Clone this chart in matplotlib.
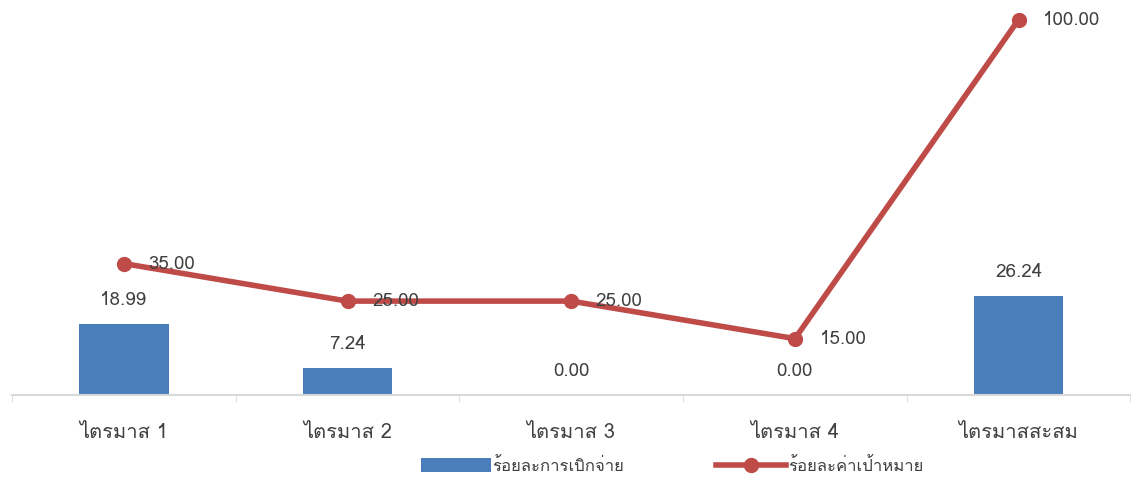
import matplotlib
matplotlib.use("Agg")
import matplotlib.pyplot as plt
from matplotlib import font_manager
from matplotlib.ft2font import FT2Font
import numpy as np


def find_thai_font():
    # pick an installed family that has Thai glyphs
    for f in font_manager.fontManager.ttflist:
        try:
            if 0x0E44 in FT2Font(f.fname).get_charmap():
                return f.name
        except Exception:
            pass
    return None


categories = ["ไตรมาส 1", "ไตรมาส 2", "ไตรมาส 3", "ไตรมาส 4", "ไตรมาสสะสม"]
disbursed = [18.99, 7.24, 0.00, 0.00, 26.24]
target = [35.00, 25.00, 25.00, 15.00, 100.00]
bar_label = "ร้อยละการเบิกจ่าย"
line_label = "ร้อยละค่าเป้าหมาย"

thai = find_thai_font()
families = [thai, "DejaVu Sans"] if thai else ["DejaVu Sans"]
plt.rcParams["font.family"] = families

blue = "#4a7ebb"
red = "#be4b48"

fig = plt.figure(figsize=(11.39, 4.90), dpi=100)
ax = fig.add_axes([0.0105, 0.194, 0.982, 0.766])

x = np.arange(len(categories))
bars = ax.bar(x, disbursed, width=0.4, color=blue, label=bar_label, zorder=2)
line, = ax.plot(x, target, color=red, lw=4, marker="o", ms=10, label=line_label,
                zorder=3, clip_on=False)

for xi, v in zip(x, disbursed):
    ax.text(xi, v + 4, f"{v:.2f}", ha="center", va="bottom", fontsize=13.5, color="#404040")
for xi, v in zip(x, target):
    ax.text(xi + 0.11, v, f"{v:.2f}", ha="left", va="center", fontsize=13.5, color="#404040")

ax.set_xlim(-0.5, len(categories) - 0.5)
ax.set_ylim(0, 100)
ax.set_yticks(np.arange(0, 101, 20))
ax.yaxis.set_visible(False)
ax.grid(axis="y", color="#d9d9d9", lw=1.5, zorder=0)
ax.set_xticks(x)
ax.set_xticklabels(categories, fontsize=14.5, color="#404040")
ax.set_xticks(np.arange(-0.5, len(categories)), minor=True)
ax.tick_params(axis="x", which="major", length=0, pad=20)
ax.tick_params(axis="x", which="minor", length=5, color="#d9d9d9")
for s in ["top", "right", "left"]:
    ax.spines[s].set_visible(False)
ax.spines["bottom"].set_color("#d9d9d9")
ax.spines["bottom"].set_linewidth(1.5)

fig.legend([bars, line], [bar_label, line_label], loc="lower center",
           bbox_to_anchor=(0.59, 0.0), ncol=2, frameon=False,
           fontsize=12, handlelength=4.2, handleheight=0.9, handletextpad=0.1,
           columnspacing=5.5, labelcolor="#404040")

fig.savefig("out.png", dpi=100)
